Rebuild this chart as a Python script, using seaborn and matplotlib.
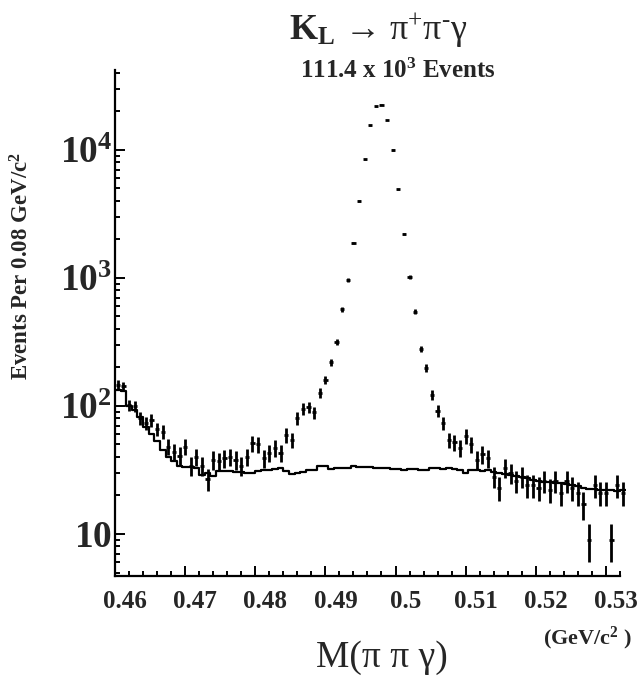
import matplotlib.pyplot as plt
import matplotlib.ticker as mticker
import matplotlib.transforms as mtransforms
import numpy as np
import pandas as pd
import seaborn as sns

# binning of the M(pi pi gamma) histogram
mass_lo = 0.46
bin_width = 0.0008

# data counts per bin
data_counts = [
    146, 142, 102, 99, 80, 73, 77, 66, 63, 48,
    44, 41, 48, 34, 40, 34, 27, 38, 37, 39,
    40, 38, 34, 40, 51, 50, 39, 43, 47, 43,
    59, 54, 80, 95, 98, 89, 126, 160, 219, 318,
    569, 964, 1880, 3970, 8450, 15500, 21800, 22500, 17100, 9960,
    4900, 2210, 1020, 546, 279, 197, 122, 92, 73, 54,
    52, 47, 58, 50, 38, 42, 39, 28, 23, 33,
    30, 26, 28, 24, 24, 23, 26, 22, 26, 21,
    26, 23, 21, 17, 9, 24, 21, 21, 9, 24,
    21,
]

# background Monte Carlo histogram
mc_counts = [
    133, 130, 100, 93, 82, 69, 60, 53, 45, 40,
    37, 34, 33.5, 33.5, 33, 29, 30, 28.5, 31, 31,
    31, 30.5, 30.5, 30, 30, 31, 31.5, 31.5, 32, 32.5,
    31, 29.5, 30, 30.5, 31.5, 31.5, 34, 34, 32, 32.5,
    32.5, 32.5, 34, 33.5, 33.5, 33.5, 33, 32.5, 32.5, 32,
    32, 31.5, 32, 32, 31.5, 31.5, 33, 32.5, 32, 32.5,
    32, 31.5, 30, 31.5, 31.5, 31, 31.5, 30.5, 30, 29.5,
    29, 28.5, 28, 27.5, 26.5, 26, 25.5, 25.5, 25, 25,
    24.5, 24, 23.5, 23, 22.5, 22.5, 22, 22, 22, 21.5,
    22,
]

x_ticks = [0.46, 0.47, 0.48, 0.49, 0.50, 0.51, 0.52, 0.53]
x_tick_labels = ["0.46", "0.47", "0.48", "0.49", "0.5", "0.51", "0.52", "0.53"]
y_ticks = [10, 100, 1000, 10000]
y_tick_labels = [r"$\mathbf{10}$", r"$\mathbf{10^{2}}$", r"$\mathbf{10^{3}}$", r"$\mathbf{10^{4}}$"]

n_bins = len(data_counts)
edges = mass_lo + bin_width * np.arange(n_bins + 1)
centers = 0.5 * (edges[:-1] + edges[1:])
counts = np.array(data_counts, dtype=float)
errors = np.sqrt(counts)

mc = pd.DataFrame({"mass": centers, "events": mc_counts})

sns.set_theme(style="ticks")
plt.rcParams["font.family"] = ["Liberation Serif", "DejaVu Serif"]
plt.rcParams["mathtext.fontset"] = "custom"
plt.rcParams["mathtext.rm"] = "Liberation Serif"
plt.rcParams["mathtext.bf"] = "Liberation Serif:bold"
plt.rcParams["mathtext.it"] = "Liberation Serif:italic"

fig = plt.figure(figsize=(6.44, 6.81), dpi=100)
ax = fig.add_axes([0.1786, 0.1542, 0.7927, 0.7430])
ax.set_yscale("log")

sns.histplot(
    data=mc,
    x="mass",
    weights="events",
    bins=edges.tolist(),
    element="step",
    fill=False,
    color="black",
    linewidth=1.6,
    ax=ax,
)

ax.errorbar(
    centers,
    counts,
    yerr=errors,
    xerr=bin_width * 0.38,
    fmt="none",
    ecolor="black",
    elinewidth=2.0,
    capsize=0,
)

ax.set_xlim(mass_lo, edges[-1])
ax.set_ylim(4.7, 42000)

sns.despine(ax=ax)
ax.spines["bottom"].set_bounds(mass_lo, 0.532)
for side in ["left", "bottom"]:
    ax.spines[side].set_linewidth(1.6)
    ax.spines[side].set_color("black")

ax.set_xticks(x_ticks, x_tick_labels, fontsize=18, fontweight="bold")
ax.xaxis.set_minor_locator(mticker.MultipleLocator(0.002))
ax.set_yticks(y_ticks, y_tick_labels, fontsize=27)
ax.yaxis.set_minor_locator(mticker.LogLocator(base=10, subs=np.arange(2, 10)))
ax.yaxis.set_minor_formatter(mticker.NullFormatter())

ax.tick_params(axis="both", which="major", direction="in", length=7, width=1.4, color="black")
ax.tick_params(axis="both", which="minor", direction="in", length=3.8, width=1.4, color="black")
ax.tick_params(axis="x", which="major", pad=10)
ax.tick_params(axis="y", which="major", pad=2)

shift = mtransforms.ScaledTranslation(0.1, 0, fig.dpi_scale_trans)
for lbl in ax.get_xticklabels():
    lbl.set_transform(lbl.get_transform() + shift)

ax.set_xlabel("")
ax.set_ylabel("")
ax.grid(False)

fig.text(0.587, 0.941, r"$\mathbf{K_L}$ → π$^{+}$π$^{‐}$γ", fontsize=26,
         ha="center", va="baseline")
fig.text(0.618, 0.885, r"111.4 x 10$^{\mathbf{3}}$ Events", fontsize=18,
         fontweight="bold", ha="center", va="baseline")
fig.text(0.034, 0.609, r"Events Per 0.08 GeV/c$^{\mathbf{2}}$", fontsize=16.5,
         fontweight="bold", rotation=90, ha="center", va="center")
fig.text(0.593, 0.021, "M(π π γ)", fontsize=27, ha="center", va="baseline")
fig.text(0.913, 0.054, r"(GeV/c$^{\mathbf{2}}$ )", fontsize=16,
         fontweight="bold", ha="center", va="baseline")

fig.savefig("out.png", dpi=100)
